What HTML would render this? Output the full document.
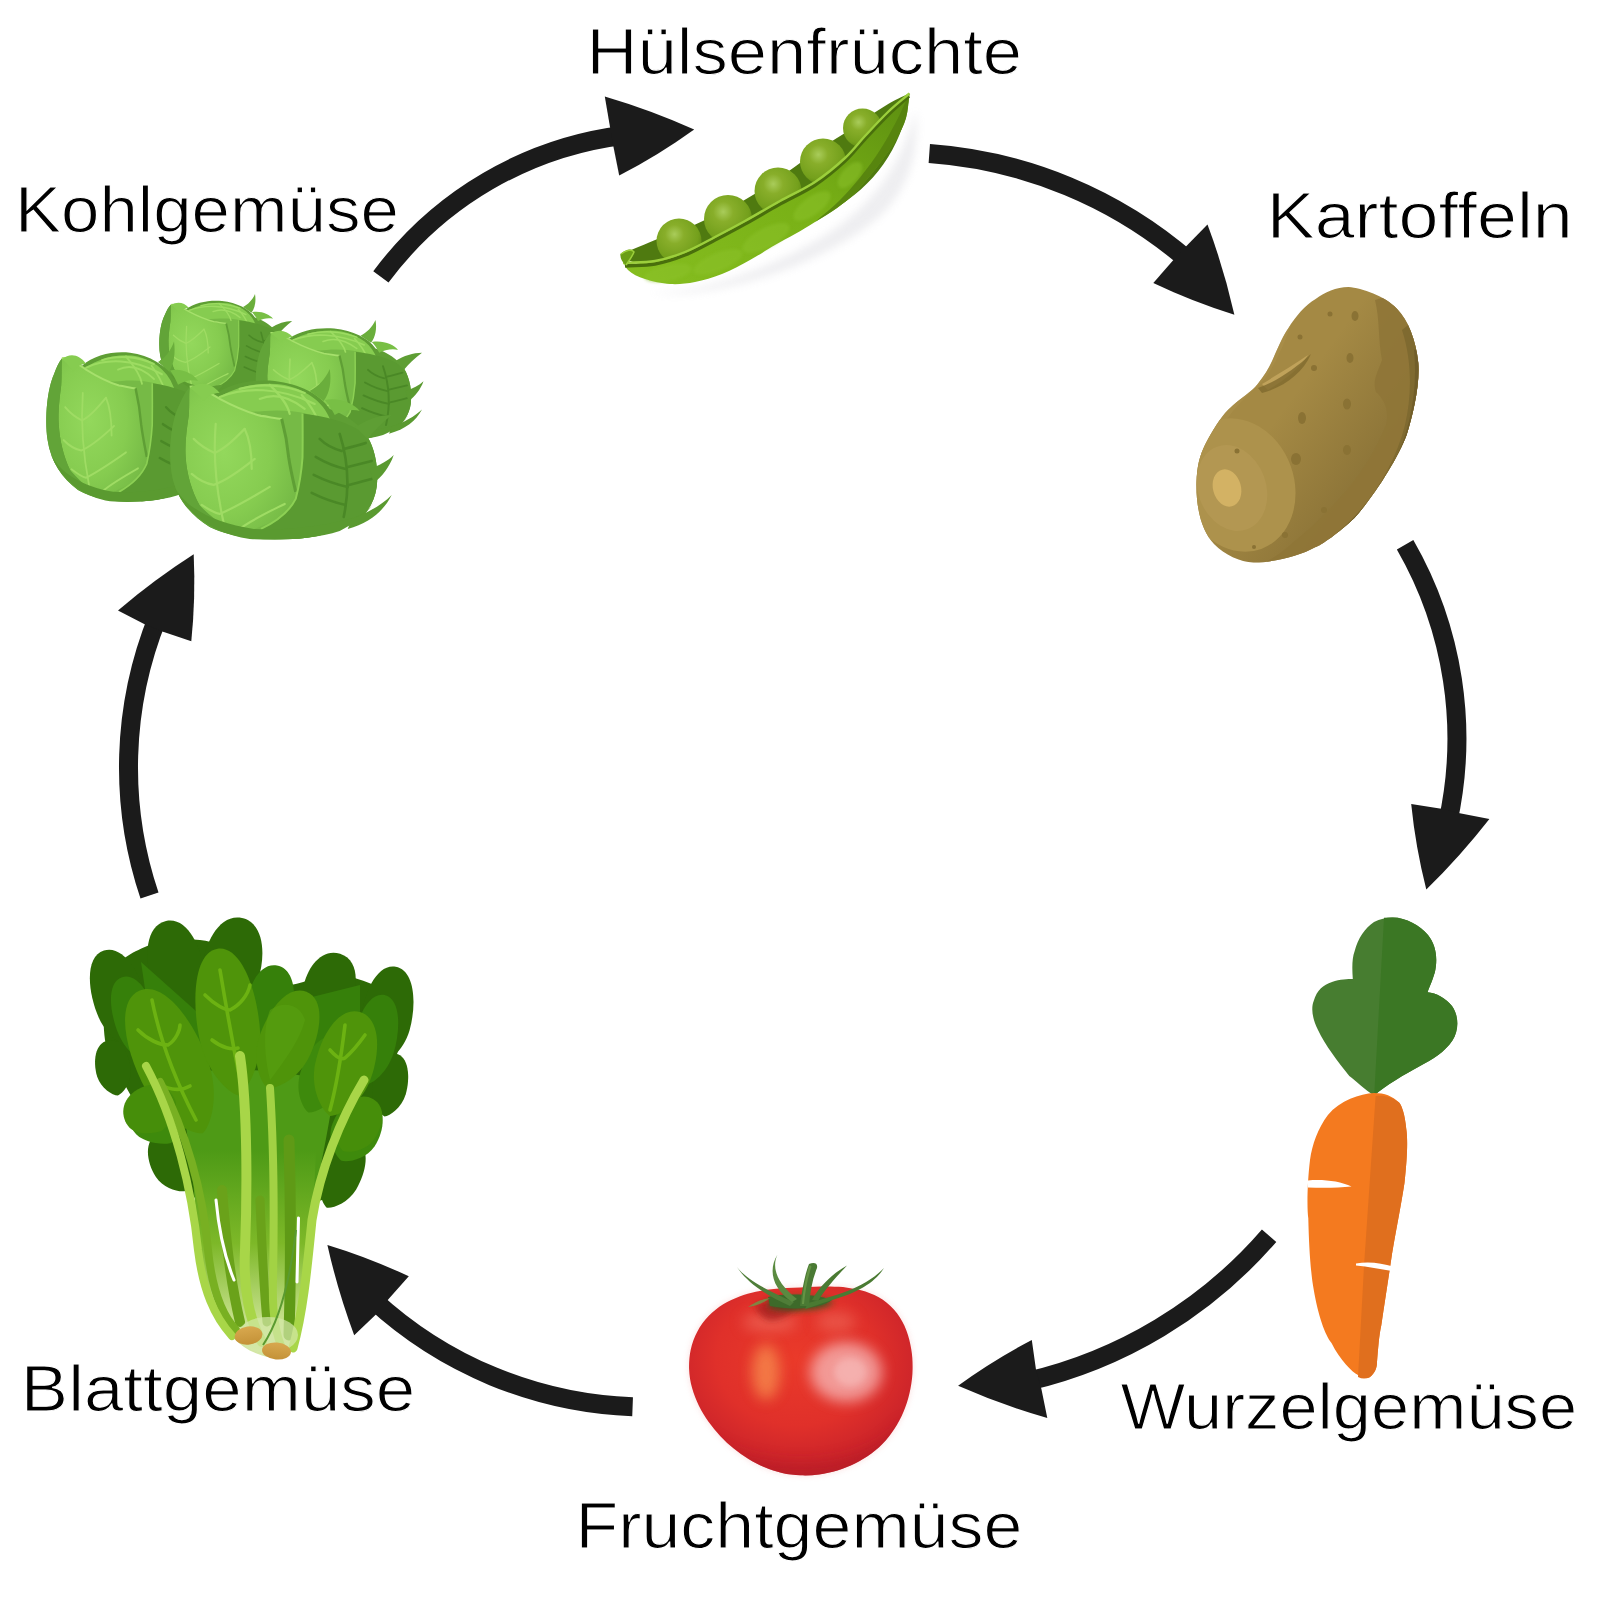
<!DOCTYPE html>
<html><head><meta charset="utf-8">
<style>
html,body{margin:0;padding:0;background:#fff;}
svg{display:block;}
text{font-family:"Liberation Sans",sans-serif;font-size:64px;fill:#000;stroke:#fff;stroke-width:1.1px;}
</style></head><body>
<svg width="1600" height="1600" viewBox="0 0 1600 1600">
<rect width="1600" height="1600" fill="#fff"/>
<!-- VEG -->
<g id="spinach">
<defs>
<path id="leafU" d="M0,-1 C0.75,-1 1.05,-0.35 0.95,0.2 C0.85,0.65 0.3,0.95 0,1 C-0.3,0.95 -0.85,0.65 -0.95,0.2 C-1.05,-0.35 -0.75,-1 0,-1 Z"/>
<linearGradient id="spBase" x1="0" y1="0" x2="0" y2="1">
<stop offset="0" stop-color="#4d9a16"/>
<stop offset="0.45" stop-color="#7db828"/>
<stop offset="0.8" stop-color="#c2de86"/>
<stop offset="1" stop-color="#d6e8aa"/>
</linearGradient>
<linearGradient id="spCut" x1="0" y1="0" x2="0" y2="1">
<stop offset="0" stop-color="#d8a84e"/>
<stop offset="1" stop-color="#c49238"/>
</linearGradient>
</defs>
<!-- dark back leaves -->
<path fill="#2d6a06" d="M110.0,975.0 C117.5,959.2 135.0,950.8 150.0,945.0 C165.0,939.2 185.0,938.3 200.0,940.0 C215.0,941.7 226.7,947.5 240.0,955.0 C253.3,962.5 263.3,981.7 280.0,985.0 C296.7,988.3 320.8,972.5 340.0,975.0 C359.2,977.5 385.3,987.5 395.0,1000.0 C404.7,1012.5 400.5,1035.0 398.0,1050.0 C395.5,1065.0 387.2,1073.3 380.0,1090.0 C372.8,1106.7 364.7,1131.7 355.0,1150.0 C345.3,1168.3 347.0,1191.7 322.0,1200.0 C297.0,1208.3 227.8,1203.3 205.0,1200.0 C182.2,1196.7 193.3,1190.8 185.0,1180.0 C176.7,1169.2 165.0,1150.8 155.0,1135.0 C145.0,1119.2 133.3,1100.8 125.0,1085.0 C116.7,1069.2 107.5,1058.3 105.0,1040.0 C102.5,1021.7 102.5,990.8 110.0,975.0 Z"/>
<g fill="#2d6a06">
<use href="#leafU" transform="translate(120,1000) rotate(-18) scale(27,52)"/>
<use href="#leafU" transform="translate(176,968) rotate(-12) scale(28,48)"/>
<use href="#leafU" transform="translate(232,965) rotate(12) scale(30,48)"/>
<use href="#leafU" transform="translate(329,988) rotate(18) scale(26,36)"/>
<use href="#leafU" transform="translate(387,1016) rotate(10) scale(26,50)"/>
<use href="#leafU" transform="translate(113,1068) rotate(-10) scale(18,28)"/>
<use href="#leafU" transform="translate(172,1162) rotate(-25) scale(22,32)"/>
<use href="#leafU" transform="translate(390,1085) rotate(10) scale(18,32)"/>
<use href="#leafU" transform="translate(342,1175) rotate(25) scale(20,36)"/>
</g>
<g fill="#36800a">
<use href="#leafU" transform="translate(136,1020) rotate(-18) scale(22,45)"/>
<use href="#leafU" transform="translate(375,1040) rotate(12) scale(22,46)"/>
<use href="#leafU" transform="translate(270,1005) rotate(10) scale(24,40)"/>
<path d="M141,962 L206,1020 L200,1098 L160,1090 Z"/>
<path d="M300,1000 L360,985 L360,1090 L310,1110 Z"/>
</g>
<!-- center mass -->
<path fill="#4e9a16" d="M178,1075 C220,1065 300,1070 335,1085 C330,1120 322,1160 316,1190 L195,1200 C190,1150 184,1110 178,1075 Z"/>
<path fill="url(#spBase)" d="M193,1150 C194,1220 200,1275 215,1310 C225,1332 240,1348 258,1354 C272,1360 286,1358 293,1350 C301,1330 306,1300 309,1276 C311,1250 313,1220 316,1150 Z"/>
<g fill="#3e8a0c">
<use href="#leafU" transform="translate(160,1115) rotate(-20) scale(32,30)"/>
<use href="#leafU" transform="translate(356,1130) rotate(25) scale(25,34)"/>
<use href="#leafU" transform="translate(322,1075) rotate(20) scale(22,40)"/>
</g>
<!-- front leaves -->
<g fill="#4f940a">
<use href="#leafU" transform="translate(171,1062) rotate(-24) scale(36,78)"/>
<use href="#leafU" transform="translate(228,1022) rotate(-8) scale(32,74)"/>
<use href="#leafU" transform="translate(287,1040) rotate(22) scale(28,52)"/>
<use href="#leafU" transform="translate(345,1064) rotate(16) scale(30,54)"/>
</g>
<g fill="#468e0a">
<use href="#leafU" transform="translate(150,1110) rotate(-30) scale(28,24)"/>
<use href="#leafU" transform="translate(358,1125) rotate(30) scale(22,30)"/>
</g>
<g fill="none" stroke="#6cb212" stroke-width="3.6" stroke-linecap="round">
<path d="M152,1000 C160,1040 175,1080 196,1120"/>
<path d="M138,1030 C148,1040 160,1045 168,1045 C176,1040 180,1030 180,1025"/>
<path d="M155,1080 C165,1090 180,1092 190,1086"/>
<path d="M220,970 C225,1000 232,1040 240,1080"/>
<path d="M205,995 C215,1005 225,1010 230,1010 C240,1005 248,995 250,985"/>
<path d="M212,1040 C222,1048 232,1050 238,1048"/>
<path d="M345,1025 C342,1050 338,1080 330,1110"/>
<path d="M330,1050 C337,1058 342,1060 345,1058 C352,1052 360,1042 365,1035"/>
</g>
<path fill="#58a010" opacity="0.6" d="M270,1010 C285,1000 300,1005 305,1020 C300,1040 285,1060 270,1080 C265,1060 262,1030 270,1010 Z"/>
<!-- stems -->
<g fill="none" stroke-linecap="round">
<path stroke="#6aa21a" stroke-width="10" d="M222,1190 C226,1240 230,1280 240,1322"/>
<path stroke="#6aa21a" stroke-width="9" d="M260,1200 C262,1250 264,1290 267,1322"/>
<path stroke="#5f9a16" stroke-width="11" d="M289,1140 C291,1210 291,1270 289,1335"/>
<path stroke="#78b022" stroke-width="8" d="M160,1082 C185,1130 203,1190 208,1250 C212,1290 222,1315 236,1330"/>
<path stroke="#a8d648" stroke-width="8" d="M146,1066 C175,1120 192,1190 198,1250 C203,1290 214,1316 232,1336"/>
<path stroke="#a8d648" stroke-width="10" d="M240,1056 C248,1110 247,1200 245,1250 C243,1290 250,1322 262,1342"/>
<path stroke="#a2d244" stroke-width="8" d="M270,1088 C274,1150 274,1230 273,1280 C272,1312 276,1336 283,1350"/>
<path stroke="#a8d648" stroke-width="9" d="M364,1080 C340,1120 320,1170 312,1220 C307,1270 303,1312 293,1348"/>
<path stroke="#ffffff" stroke-width="3" d="M216,1200 C219,1232 225,1258 234,1280"/>
<path stroke="#ffffff" stroke-width="3" d="M298.5,1218 C298,1240 297.5,1262 297,1282"/>
</g>
<ellipse cx="268" cy="1335" rx="30" ry="18" fill="#d4e8aa" opacity="0.7"/>
<!-- cut ends -->
<ellipse cx="248.5" cy="1335.5" rx="14" ry="9" fill="url(#spCut)" transform="rotate(-8 248.5 1335.5)"/>
<ellipse cx="276.5" cy="1351" rx="14.5" ry="8.5" fill="url(#spCut)" transform="rotate(5 276.5 1351)"/>
<path fill="none" stroke="#5a9a30" stroke-width="2" d="M296,1230 C290,1280 280,1320 263,1345"/>
</g>

<g id="cabbage">
<defs>
<radialGradient id="cabBall" cx="0.35" cy="0.45" r="0.7">
<stop offset="0" stop-color="#93d85c"/>
<stop offset="0.6" stop-color="#86cc50"/>
<stop offset="1" stop-color="#76bb46"/>
</radialGradient>
<g id="cabHead">
<path fill="#5e9e34" d="M-70,-72 C-60,-74 -50,-70 -45,-64 C-30,-76 -5,-80 15,-78 C40,-75 60,-65 70,-50 C85,-45 100,-35 108,-22 C116,-8 119,10 117,28 C115,42 108,55 96,62 C80,72 55,80 30,80 C0,82 -30,78 -50,68 C-70,56 -84,38 -88,15 C-92,-10 -88,-40 -80,-55 C-77,-62 -74,-68 -70,-72 Z"/>
<circle cx="0" cy="0" r="72" fill="#76ba46"/>
<path fill="#86cc50" d="M-50,-55 C-30,-72 0,-78 25,-74 C50,-68 66,-55 72,-35 C55,-46 30,-50 5,-48 C-20,-46 -40,-48 -50,-55 Z"/>
<g fill="none" stroke="#9ddc62" stroke-width="2.2" stroke-linecap="round">
<path d="M-40,-62 C-15,-72 20,-72 55,-55"/>
<path d="M-20,-70 C0,-76 25,-74 45,-66"/>
<path d="M0,-60 C15,-66 30,-62 45,-50"/>
<path d="M10,-74 C20,-64 28,-55 30,-45"/>
<path d="M42,-64 C50,-55 56,-45 60,-35"/>
</g>
<path fill="url(#cabBall)" d="M-70,-72 C-62,-74 -50,-66 -40,-60 C-25,-52 -10,-46 1.3,-43 C10,-42 16,-40 22,-40 C26,-25 28,-12 29,-1.4 C31,12 34,24 36,33 C32,48 20,62 1.3,67 C-8,72 -18,74 -26,74 C-40,66 -52,58 -60,46.7 C-68,32 -73,15 -74,-1.4 C-75,-15 -73,-30 -71,-43 C-70,-55 -71,-64 -70,-72 Z"/>
<path fill="none" stroke="#a6e06c" stroke-width="2.2" d="M-70,-72 C-62,-74 -50,-66 -40,-60 C-25,-52 -10,-46 1.3,-43 C10,-42 16,-40 22,-40"/>
<path fill="none" stroke="#5f9f35" stroke-width="3" d="M22,-40 C26,-25 28,-12 29,-1.4 C31,12 34,24 36,33"/>
<g fill="none" stroke="#9fdc64" stroke-width="2.2" stroke-linecap="round">
<path d="M-44,-35 C-46,-10 -46,20 -36,64"/>
<path d="M-66,-20 C-58,-12 -50,-8 -45,-6 C-35,-10 -25,-20 -15,-30"/>
<path d="M-68,15 C-60,22 -52,25 -46,26 C-34,22 -20,12 -5,0"/>
<path d="M-58,46 C-52,50 -46,54 -40,55 C-28,50 -10,40 10,28"/>
<path d="M-20,70 C-10,62 5,55 25,45"/>
<path d="M-15,-30 C-10,-20 -8,-5 -8,10"/>
</g>
<path fill="#62a438" d="M-70,-72 C-74,-68 -77,-62 -80,-55 C-88,-40 -92,-10 -88,15 C-84,38 -70,56 -50,68 C-40,73 -20,78 -6,79 C-26,74 -40,66 -60,46.7 C-68,32 -73,15 -74,-1.4 C-75,-15 -73,-30 -71,-43 C-70,-55 -71,-64 -70,-72 Z"/>
<path fill="#5a9a31" d="M42.8,-45.4 C70,-42 95,-35 108,-22 C116,-8 119,10 117,28 C115,42 108,55 96,62 C80,72 55,80 30,80 C20,79 10,75 1.3,70 C18,62 30,52 36,40 C40,25 42,10 42.8,-1.4 C43,-15 43,-30 42.8,-45.4 Z"/>
<path fill="none" stroke="#8cd054" stroke-width="2" d="M42.8,-45.4 C43,-30 43,-15 42.8,-1.4 C42,10 40,25 36,40 C30,52 18,62 1.3,70"/>
<g fill="none" stroke="#4a8826" stroke-width="2.6" stroke-linecap="round">
<path d="M80,-25 C88,0 90,30 84,58"/>
<path d="M82,-8 C74,-10 66,-14 60,-20"/>
<path d="M86,10 C76,8 66,4 56,-2"/>
<path d="M88,28 C78,26 66,22 54,16"/>
<path d="M86,46 C76,44 64,40 52,34"/>
<path d="M84,-10 C92,-12 100,-14 106,-16"/>
<path d="M88,8 C96,6 104,4 112,2"/>
<path d="M89,26 C97,24 104,22 112,20"/>
</g>
<path fill="#5a9a30" d="M-84,30 C-72,50 -45,64 -6,70 C30,72 70,66 96,58 C105,55 112,48 116,40 C108,55 96,64 80,72 C55,80 20,82 -10,80 C-40,76 -70,60 -84,30 Z"/>
<path fill="#5a9a30" d="M92,60 C108,54 122,46 132,36 C124,52 110,64 88,70 Z"/>
<path fill="#86cc50" d="M-70,-71 C-60,-78 -48,-76 -40,-66 C-46,-66 -52,-64 -56,-58 C-60,-63 -65,-68 -70,-71 Z"/>
<path fill="#6aae3c" d="M50,-68 C58,-72 66,-80 70,-90 C72,-78 70,-66 64,-58 Z"/>
<path fill="#5e9e34" d="M96,-32 C108,-40 120,-44 132,-44 C122,-36 114,-28 108,-20 Z"/>
<path fill="#78bf45" d="M65,-59 C80,-62 95,-55 100,-48 C92,-50 82,-48 75,-44 C72,-50 68,-56 65,-59 Z"/>
<path fill="#5a9a30" d="M110,10 C120,6 128,2 134,-4 C130,8 122,18 114,24 Z"/>
</g>
</defs>
<path fill="#5e9e34" d="M160,360 L280,350 L300,420 L200,430 Z"/>
<use href="#cabHead" transform="translate(213,347) scale(0.6,0.59)"/>
<use href="#cabHead" transform="translate(323,384) scale(0.75,0.71)"/>
<use href="#cabHead" transform="translate(118,426) scale(0.8,0.94)"/>
<use href="#cabHead" transform="translate(259.7,458.9) scale(1,1)"/>
</g>

<g id="pea">
<defs>
<radialGradient id="peaG" cx="0.4" cy="0.35" r="0.7">
<stop offset="0" stop-color="#a9cc5a"/>
<stop offset="0.3" stop-color="#88ae2a"/>
<stop offset="0.75" stop-color="#74a01c"/>
<stop offset="1" stop-color="#5a8410"/>
</radialGradient>
<linearGradient id="podG" x1="0" y1="1" x2="1" y2="0">
<stop offset="0" stop-color="#86be20"/>
<stop offset="0.55" stop-color="#78b016"/>
<stop offset="1" stop-color="#5c8e10"/>
</linearGradient>
<filter id="blur4" x="-20%" y="-20%" width="140%" height="140%"><feGaussianBlur stdDeviation="4"/></filter>
<filter id="blur2" x="-20%" y="-20%" width="140%" height="140%"><feGaussianBlur stdDeviation="1.5"/></filter>
</defs>
<path fill="#cfcfd6" opacity="0.35" filter="url(#blur4)" d="M650,292 C700,294 770,270 830,232 C870,205 900,170 916,110 C920,160 905,200 865,228 C800,275 700,300 650,292 Z"/>
<!-- back wall -->
<path fill="#4f7a10" d="M620.5,254 C632,250 645,244 660,238 C680,232 692,226 705,220 C728,210 745,200 758,192 C772,184 790,170 800,163 C815,152 830,142 845,133 C860,122 875,112 885,106 C895,100 903,96 909.4,93.5 C905,140 880,180 840,205 C790,235 720,258 660,265 C640,266 628,262 620.5,254 Z"/>
<!-- peas -->
<circle cx="679" cy="241" r="22.5" fill="url(#peaG)"/>
<circle cx="728" cy="219" r="24" fill="url(#peaG)"/>
<circle cx="778" cy="191" r="23.5" fill="url(#peaG)"/>
<circle cx="823" cy="161.5" r="23" fill="url(#peaG)"/>
<circle cx="862.5" cy="128" r="19.5" fill="url(#peaG)"/>
<!-- front wall -->
<path fill="url(#podG)" d="M620.5,254.0 C624.0,257.0 625.2,261.8 631.0,263.0 C636.8,264.2 646.0,262.8 655.0,261.0 C664.0,259.2 675.0,256.0 685.0,252.0 C695.0,248.0 705.0,242.2 715.0,237.0 C725.0,231.8 734.2,227.0 745.0,221.0 C755.8,215.0 768.3,207.5 780.0,201.0 C791.7,194.5 804.2,189.2 815.0,182.0 C825.8,174.8 836.7,165.7 845.0,158.0 C853.3,150.3 857.8,143.7 865.0,136.0 C872.2,128.3 880.6,119.1 888.0,112.0 C895.4,104.9 902.3,99.7 909.4,93.5 C908.3,101.7 908.2,110.2 906.0,118.0 C903.8,125.8 899.8,133.2 896.0,140.0 C892.2,146.8 887.5,152.8 883.0,159.0 C878.5,165.2 873.8,171.2 869.0,177.0 C864.2,182.8 859.3,188.8 854.0,194.0 C848.7,199.2 843.5,203.3 837.0,208.0 C830.5,212.7 822.0,217.7 815.0,222.0 C808.0,226.3 801.7,230.2 795.0,234.0 C788.3,237.8 782.5,240.7 775.0,245.0 C767.5,249.3 758.8,255.2 750.0,260.0 C741.2,264.8 731.2,270.3 722.0,274.0 C712.8,277.7 703.7,280.3 695.0,282.0 C686.3,283.7 678.3,284.5 670.0,284.0 C661.7,283.5 652.0,281.3 645.0,279.0 C638.0,276.7 632.1,274.2 628.0,270.0 C623.9,265.8 623.0,259.3 620.5,254.0 Z"/>
<path fill="#55820e" opacity="0.9" d="M909.4,93.5 C908.3,101.7 908.2,110.2 906.0,118.0 C903.8,125.8 899.8,133.2 896.0,140.0 C892.2,146.8 887.5,152.8 883.0,159.0 C878.5,165.2 873.8,171.2 869.0,177.0 C864.2,182.8 859.3,188.8 854.0,194.0 C848.7,199.2 843.5,203.3 837.0,208.0 C830.5,212.7 822.3,217.3 815.0,222.0 C823.3,214.7 832.2,207.8 840.0,200.0 C847.8,192.2 855.3,183.3 862.0,175.0 C868.7,166.7 874.3,158.8 880.0,150.0 C885.7,141.2 891.1,131.4 896.0,122.0 C900.9,112.6 904.9,103.0 909.4,93.5 Z"/>
<g fill="#8cc22a" opacity="0.5" filter="url(#blur2)">
<ellipse cx="668" cy="273" rx="24" ry="8" transform="rotate(-12 668 273)"/>
<ellipse cx="718" cy="262" rx="26" ry="9" transform="rotate(-22 718 262)"/>
<ellipse cx="766" cy="238" rx="26" ry="10" transform="rotate(-28 766 238)"/>
<ellipse cx="812" cy="206" rx="22" ry="9" transform="rotate(-36 812 206)"/>
<ellipse cx="850" cy="175" rx="16" ry="8" transform="rotate(-48 850 175)"/>
</g>
<!-- rim -->
<path fill="none" stroke="#496f0c" stroke-width="3.5" d="M625.0,266.0 C635.0,265.3 645.0,265.8 655.0,264.0 C665.0,262.2 675.0,259.0 685.0,255.0 C695.0,251.0 705.0,245.2 715.0,240.0 C725.0,234.8 734.2,230.0 745.0,224.0 C755.8,218.0 768.3,210.5 780.0,204.0 C791.7,197.5 804.2,192.2 815.0,185.0 C825.8,177.8 836.7,168.7 845.0,161.0 C853.3,153.3 857.8,146.7 865.0,139.0 C872.2,131.3 880.7,122.2 888.0,115.0 C895.3,107.8 902.0,102.3 909.0,96.0"/>
<path fill="none" stroke="#9ccf3c" stroke-width="2.4" d="M623.0,263.0 C633.7,262.3 644.7,262.8 655.0,261.0 C665.3,259.2 675.0,256.0 685.0,252.0 C695.0,248.0 705.0,242.2 715.0,237.0 C725.0,231.8 734.2,227.0 745.0,221.0 C755.8,215.0 768.3,207.5 780.0,201.0 C791.7,194.5 804.2,189.2 815.0,182.0 C825.8,174.8 836.7,165.7 845.0,158.0 C853.3,150.3 857.8,143.7 865.0,136.0 C872.2,128.3 880.6,119.1 888.0,112.0 C895.4,104.9 902.3,99.7 909.4,93.5"/>
<!-- left tip curl -->
<path fill="#6a9e16" d="M620.5,254 C626,249 632,248 634,252 C633,257 629,262 626,265 C622,262 620,258 620.5,254 Z"/>
<path fill="none" stroke="#9ccf3c" stroke-width="1.5" d="M621,254 C626,250 632,249 634,252 C632,257 628,262 626,265"/>
</g>

<!-- POTATO -->
<defs>
<linearGradient id="potG" x1="0" y1="0" x2="1" y2="0.3">
<stop offset="0" stop-color="#ad924c"/>
<stop offset="0.6" stop-color="#9e843f"/>
<stop offset="1" stop-color="#7f6a30"/>
</linearGradient>
<radialGradient id="tomG" cx="0.5" cy="0.4" r="0.6">
<stop offset="0" stop-color="#ea3a32"/>
<stop offset="0.7" stop-color="#de2a2c"/>
<stop offset="1" stop-color="#c21f2a"/>
</radialGradient>
<radialGradient id="tomH1" cx="0.5" cy="0.5" r="0.5">
<stop offset="0" stop-color="#fbd6d6" stop-opacity="0.95"/>
<stop offset="0.5" stop-color="#f5a0a0" stop-opacity="0.6"/>
<stop offset="1" stop-color="#e33" stop-opacity="0"/>
</radialGradient>
<radialGradient id="tomH2" cx="0.5" cy="0.5" r="0.5">
<stop offset="0" stop-color="#f98a50" stop-opacity="0.9"/>
<stop offset="1" stop-color="#e33" stop-opacity="0"/>
</radialGradient>
</defs>
<linearGradient id="potShade" gradientUnits="userSpaceOnUse" x1="1290" y1="400" x2="1400" y2="480"><stop offset="0" stop-color="#6a5626" stop-opacity="0"/><stop offset="1" stop-color="#6a5626" stop-opacity="0.5"/></linearGradient>
<clipPath id="potClip"><path id="potPath" d="M1348.5,287 C1362,288 1385,296 1397,308.7 C1408,320 1416,340 1418.3,363 C1420,385 1413,415 1406.7,434.7 C1398,458 1375,495 1354.4,518 C1340,532 1320,546 1315.6,547 C1300,556 1270,563 1253.6,562.5 C1240,562 1225,555 1214,544 C1203,532 1196,512 1196.5,483 C1197,465 1200,455 1205.2,444.4 C1213,430 1220,418 1228.4,409.5 C1240,398 1252,392 1257.5,384.3 C1265,375 1270,366 1273,359 C1280,343 1284,334 1288.5,328 C1296,316 1305,305 1315.6,299 C1325,292 1336,287 1348.5,287 Z"/></clipPath>
<g id="potato">
<use href="#potPath" fill="#a48944"/>
<g clip-path="url(#potClip)">
<path fill="#ab904b" d="M1180,600 L1180,300 L1300,300 C1290,330 1275,370 1260,384 C1240,400 1215,430 1205,460 Z" opacity="0.6"/>
<path fill="url(#potShade)" d="M1180,270 L1440,270 L1440,580 L1180,580 Z"/>
<path fill="#8f7637" opacity="0.9" d="M1375,300 C1380,320 1378,340 1382,360 C1378,372 1372,380 1376,392 C1383,398 1390,410 1386,425 C1380,440 1370,460 1355,480 C1335,505 1315,525 1290,545 C1280,555 1260,566 1250,570 L1440,570 L1440,280 Z"/>
<path fill="#7f6a30" d="M1402,330 C1412,360 1412,395 1405,425 C1395,465 1370,505 1340,530 C1320,548 1295,560 1270,568 L1440,570 L1440,300 Z"/>
<path fill="#6e5b29" d="M1414,350 C1418,390 1410,430 1395,460 C1380,490 1355,520 1330,540 L1440,540 L1440,340 Z" opacity="0.8"/>
<ellipse cx="1238" cy="485" rx="56" ry="68" fill="#ad924c" transform="rotate(-20 1238 485)"/>
<ellipse cx="1232" cy="488" rx="34" ry="44" fill="#b39752" transform="rotate(-20 1232 488)"/>
</g>
<ellipse cx="1227" cy="488" rx="14" ry="19" fill="#d3b264" transform="rotate(-15 1227 488)"/>
<path fill="#c0a25a" d="M1262,384 C1275,376 1292,366 1308,355 C1300,368 1285,380 1268,390 Z"/>
<path fill="#7f6a2e" d="M1258,388 C1276,382 1296,368 1311,354 C1303,373 1284,387 1262,393 Z" opacity="0.8"/>
<g fill="#8a7234">
<circle cx="1330" cy="314" r="2.5"/><ellipse cx="1355" cy="316" rx="3.5" ry="5"/><circle cx="1300" cy="337" r="2.5"/>
<ellipse cx="1350" cy="358" rx="3.5" ry="5"/><circle cx="1314" cy="368" r="3"/><ellipse cx="1347" cy="404" rx="4" ry="5.5"/>
<ellipse cx="1302" cy="418" rx="4" ry="6"/><ellipse cx="1347" cy="450" rx="4" ry="5"/><ellipse cx="1296" cy="459" rx="5" ry="6"/>
<circle cx="1237" cy="451" r="2.5"/><circle cx="1324" cy="510" r="3"/><circle cx="1285" cy="535" r="3"/>
<circle cx="1254" cy="547" r="2"/>
</g>
</g>
<!-- CARROT -->
<g id="carrot">
<path fill="#477d30" d="M1392,917.4 C1405,917 1420,925 1428,935 C1436,945 1438,958 1434.8,972.6 C1432,982 1429,988 1427.6,992.2 C1436,993 1446,998 1452,1006 C1459,1016 1459,1030 1452.6,1040.3 C1445,1052 1432,1060 1420,1066 C1405,1074 1385,1086 1374.2,1095.5 C1365,1090 1355,1080 1349.3,1075.9 C1338,1062 1325,1045 1318,1030 C1312,1018 1311,1008 1313.7,1001.1 C1317,990 1323,985 1332,982 C1340,979 1348,979 1352.8,979 C1352,968 1352,958 1354.6,951.2 C1358,938 1365,928 1374,922 C1380,919 1386,917.4 1392,917.4 Z"/>
<path fill="#3b7724" d="M1392,917.4 C1405,917 1420,925 1428,935 C1436,945 1438,958 1434.8,972.6 C1432,982 1429,988 1427.6,992.2 C1436,993 1446,998 1452,1006 C1459,1016 1459,1030 1452.6,1040.3 C1445,1052 1432,1060 1420,1066 C1405,1074 1385,1086 1374.2,1095.5 L1384,917.8 Z"/>
<path fill="#f47a1f" d="M1374,1093 C1360,1094 1340,1100 1327.9,1115 C1318,1128 1312,1145 1310,1160 C1307,1185 1307,1210 1308.3,1218.3 C1309,1250 1311,1275 1313.7,1289.5 C1318,1315 1325,1335 1331.5,1343 C1340,1360 1352,1372 1358,1375 C1362,1378 1368,1379 1370,1377 C1375,1373 1377,1368 1377,1362 C1378,1350 1379,1335 1381.3,1325.2 C1385,1300 1389,1275 1392,1254 C1397,1225 1402,1200 1404.5,1182.7 C1407,1160 1408,1140 1406.3,1129.3 C1405,1115 1402,1106 1399.1,1102.6 C1392,1096 1385,1093 1374,1093 Z"/>
<path fill="#e06f1e" d="M1375.6,1096 C1385,1095 1392,1097 1399.1,1102.6 C1402,1106 1405,1115 1406.3,1129.3 C1408,1140 1407,1160 1404.5,1182.7 C1402,1200 1397,1225 1392,1254 C1389,1275 1385,1300 1381.3,1325.2 C1379,1335 1378,1350 1377,1362 C1377,1368 1375,1373 1370,1377 C1366,1379 1362,1379 1358,1377 L1364,1266 Z"/>
<path fill="#fff" d="M1308,1180.5 C1322,1179 1340,1181 1351.5,1186.5 C1338,1188 1322,1188 1308,1187.5 Z"/>
<path fill="#fff" d="M1356,1263.5 C1368,1261 1382,1263 1393,1266.5 L1392,1271 C1380,1269 1368,1266.5 1356,1265.5 Z"/>
</g>
<!-- TOMATO -->
<g id="tomato">
<defs>
<radialGradient id="tomG2" cx="0.48" cy="0.38" r="0.65">
<stop offset="0" stop-color="#ea3a2a"/>
<stop offset="0.55" stop-color="#e0302a"/>
<stop offset="0.85" stop-color="#cc242a"/>
<stop offset="1" stop-color="#b91d28"/>
</radialGradient>
<filter id="tblur" x="-50%" y="-50%" width="200%" height="200%"><feGaussianBlur stdDeviation="7"/></filter>
<filter id="tblur2" x="-50%" y="-50%" width="200%" height="200%"><feGaussianBlur stdDeviation="3"/></filter>
<clipPath id="tomClip"><path d="M689.1,1369.0 C688.9,1362.6 689.4,1355.9 690.7,1349.7 C692.1,1343.4 694.4,1337.1 697.4,1331.5 C700.3,1325.9 704.3,1320.5 708.6,1316.0 C712.9,1311.5 718.1,1307.5 723.2,1304.2 C728.4,1301.0 734.1,1298.5 739.5,1296.4 C744.9,1294.3 750.5,1292.9 755.8,1291.7 C761.1,1290.5 766.3,1289.8 771.4,1289.2 C776.4,1288.6 781.3,1288.3 786.2,1288.0 C791.0,1287.7 795.6,1287.6 800.4,1287.4 C805.2,1287.2 809.9,1287.0 814.9,1286.8 C819.9,1286.7 825.0,1286.5 830.4,1286.6 C835.8,1286.8 841.5,1286.9 847.4,1287.7 C853.2,1288.5 859.6,1289.5 865.5,1291.5 C871.4,1293.5 877.6,1296.2 882.9,1299.8 C888.1,1303.5 893.1,1308.2 897.0,1313.3 C900.9,1318.4 904.0,1324.4 906.4,1330.4 C908.8,1336.5 910.3,1343.0 911.3,1349.5 C912.4,1355.9 912.7,1362.5 912.6,1369.0 C912.5,1375.5 911.8,1382.1 910.5,1388.4 C909.3,1394.8 907.6,1401.1 905.3,1407.2 C903.1,1413.3 900.3,1419.2 897.0,1424.8 C893.8,1430.3 889.9,1435.7 885.7,1440.5 C881.4,1445.3 876.5,1449.8 871.4,1453.6 C866.3,1457.4 860.7,1460.7 855.0,1463.6 C849.4,1466.4 843.4,1468.7 837.4,1470.5 C831.4,1472.3 825.2,1473.7 819.0,1474.5 C812.9,1475.3 806.6,1475.6 800.4,1475.3 C794.3,1475.0 788.1,1474.2 782.1,1472.9 C776.2,1471.5 770.3,1469.6 764.7,1467.3 C759.1,1465.0 753.6,1462.2 748.5,1459.0 C743.3,1455.9 738.4,1452.4 733.7,1448.6 C729.0,1444.8 724.6,1440.6 720.4,1436.2 C716.2,1431.7 712.3,1427.0 708.7,1422.0 C705.2,1416.9 701.8,1411.6 699.0,1405.9 C696.2,1400.3 693.7,1394.3 692.1,1388.1 C690.4,1382.0 689.3,1375.4 689.1,1369.0 Z"/></clipPath>
</defs>
<path fill="#f4a0a0" opacity="0.35" filter="url(#tblur2)" d="M689.1,1369.0 C688.9,1362.6 689.4,1355.9 690.7,1349.7 C692.1,1343.4 694.4,1337.1 697.4,1331.5 C700.3,1325.9 704.3,1320.5 708.6,1316.0 C712.9,1311.5 718.1,1307.5 723.2,1304.2 C728.4,1301.0 734.1,1298.5 739.5,1296.4 C744.9,1294.3 750.5,1292.9 755.8,1291.7 C761.1,1290.5 766.3,1289.8 771.4,1289.2 C776.4,1288.6 781.3,1288.3 786.2,1288.0 C791.0,1287.7 795.6,1287.6 800.4,1287.4 C805.2,1287.2 809.9,1287.0 814.9,1286.8 C819.9,1286.7 825.0,1286.5 830.4,1286.6 C835.8,1286.8 841.5,1286.9 847.4,1287.7 C853.2,1288.5 859.6,1289.5 865.5,1291.5 C871.4,1293.5 877.6,1296.2 882.9,1299.8 C888.1,1303.5 893.1,1308.2 897.0,1313.3 C900.9,1318.4 904.0,1324.4 906.4,1330.4 C908.8,1336.5 910.3,1343.0 911.3,1349.5 C912.4,1355.9 912.7,1362.5 912.6,1369.0 C912.5,1375.5 911.8,1382.1 910.5,1388.4 C909.3,1394.8 907.6,1401.1 905.3,1407.2 C903.1,1413.3 900.3,1419.2 897.0,1424.8 C893.8,1430.3 889.9,1435.7 885.7,1440.5 C881.4,1445.3 876.5,1449.8 871.4,1453.6 C866.3,1457.4 860.7,1460.7 855.0,1463.6 C849.4,1466.4 843.4,1468.7 837.4,1470.5 C831.4,1472.3 825.2,1473.7 819.0,1474.5 C812.9,1475.3 806.6,1475.6 800.4,1475.3 C794.3,1475.0 788.1,1474.2 782.1,1472.9 C776.2,1471.5 770.3,1469.6 764.7,1467.3 C759.1,1465.0 753.6,1462.2 748.5,1459.0 C743.3,1455.9 738.4,1452.4 733.7,1448.6 C729.0,1444.8 724.6,1440.6 720.4,1436.2 C716.2,1431.7 712.3,1427.0 708.7,1422.0 C705.2,1416.9 701.8,1411.6 699.0,1405.9 C696.2,1400.3 693.7,1394.3 692.1,1388.1 C690.4,1382.0 689.3,1375.4 689.1,1369.0 Z"/>
<path fill="url(#tomG2)" d="M689.1,1369.0 C688.9,1362.6 689.4,1355.9 690.7,1349.7 C692.1,1343.4 694.4,1337.1 697.4,1331.5 C700.3,1325.9 704.3,1320.5 708.6,1316.0 C712.9,1311.5 718.1,1307.5 723.2,1304.2 C728.4,1301.0 734.1,1298.5 739.5,1296.4 C744.9,1294.3 750.5,1292.9 755.8,1291.7 C761.1,1290.5 766.3,1289.8 771.4,1289.2 C776.4,1288.6 781.3,1288.3 786.2,1288.0 C791.0,1287.7 795.6,1287.6 800.4,1287.4 C805.2,1287.2 809.9,1287.0 814.9,1286.8 C819.9,1286.7 825.0,1286.5 830.4,1286.6 C835.8,1286.8 841.5,1286.9 847.4,1287.7 C853.2,1288.5 859.6,1289.5 865.5,1291.5 C871.4,1293.5 877.6,1296.2 882.9,1299.8 C888.1,1303.5 893.1,1308.2 897.0,1313.3 C900.9,1318.4 904.0,1324.4 906.4,1330.4 C908.8,1336.5 910.3,1343.0 911.3,1349.5 C912.4,1355.9 912.7,1362.5 912.6,1369.0 C912.5,1375.5 911.8,1382.1 910.5,1388.4 C909.3,1394.8 907.6,1401.1 905.3,1407.2 C903.1,1413.3 900.3,1419.2 897.0,1424.8 C893.8,1430.3 889.9,1435.7 885.7,1440.5 C881.4,1445.3 876.5,1449.8 871.4,1453.6 C866.3,1457.4 860.7,1460.7 855.0,1463.6 C849.4,1466.4 843.4,1468.7 837.4,1470.5 C831.4,1472.3 825.2,1473.7 819.0,1474.5 C812.9,1475.3 806.6,1475.6 800.4,1475.3 C794.3,1475.0 788.1,1474.2 782.1,1472.9 C776.2,1471.5 770.3,1469.6 764.7,1467.3 C759.1,1465.0 753.6,1462.2 748.5,1459.0 C743.3,1455.9 738.4,1452.4 733.7,1448.6 C729.0,1444.8 724.6,1440.6 720.4,1436.2 C716.2,1431.7 712.3,1427.0 708.7,1422.0 C705.2,1416.9 701.8,1411.6 699.0,1405.9 C696.2,1400.3 693.7,1394.3 692.1,1388.1 C690.4,1382.0 689.3,1375.4 689.1,1369.0 Z"/>
<g clip-path="url(#tomClip)">
<path fill="#b81c26" opacity="0.55" filter="url(#tblur)" d="M700,1430 C740,1470 860,1480 905,1420 L920,1500 L680,1500 Z"/>
<ellipse cx="846" cy="1372" rx="36" ry="30" fill="#f8c4c4" opacity="0.7" filter="url(#tblur)"/>
<ellipse cx="850" cy="1372" rx="16" ry="14" fill="#fcdcdc" opacity="0.35" filter="url(#tblur2)"/>
<ellipse cx="766" cy="1372" rx="14" ry="28" fill="#f48048" opacity="0.9" filter="url(#tblur)"/>
<ellipse cx="770" cy="1322" rx="28" ry="10" fill="#f07060" opacity="0.6" filter="url(#tblur)"/>
<ellipse cx="836" cy="1322" rx="20" ry="10" fill="#f07060" opacity="0.55" filter="url(#tblur)"/>
<path fill="#9e1c1c" opacity="0.7" filter="url(#tblur2)" d="M755,1305 C765,1300 790,1300 800,1306 C790,1315 778,1322 768,1320 C760,1316 756,1310 755,1305 Z"/>
</g>
<path fill="#2f5a20" opacity="0.9" filter="url(#tblur2)" d="M768,1300 C785,1295 815,1295 834,1302 C825,1310 795,1313 770,1308 Z"/>
<path fill="#3d6a2a" d="M768,1297 C785,1293 815,1294 832,1300 C822,1308 795,1311 770,1306 Z"/>
<path fill="#4f7d38" d="M737,1267 C745,1278 765,1290 794,1302 L790,1306 C768,1296 748,1284 737,1267 Z"/>
<path fill="#5a8a40" d="M777.5,1254.5 C772,1266 775,1282 797,1299 L792,1302 C772,1288 768,1270 777.5,1254.5 Z"/>
<path fill="#4a7a32" d="M847,1265.5 C835,1272 820,1285 812,1300 L818,1301 C826,1288 838,1275 847,1265.5 Z"/>
<path fill="#4a7a32" d="M884,1268 C875,1282 860,1292 832,1300 C820,1304 812,1307 805,1309 L808,1303 C835,1296 865,1288 884,1268 Z"/>
<path fill="#4a7a34" d="M809,1264 C814,1262 818,1263 817,1268 C812,1280 810,1293 809,1306 L800,1306 C802,1290 805,1274 809,1264 Z"/>
<path fill="#6a9a48" opacity="0.8" d="M809,1266 C811,1265 812,1266 811,1268 C807,1280 805,1293 804,1304 L802,1304 C803,1290 806,1276 809,1266 Z"/>
<path fill="#6c9a48" opacity="0.8" d="M748,1307 C755,1302 762,1299 770,1298 C764,1303 756,1306 748,1307 Z"/>
</g>

<!-- arrows -->
<g fill="none" stroke="#1b1b1b" stroke-width="19" stroke-linecap="butt">
<path d="M380.9,276.9 A357.3,357.3 0 0 1 623.9,135.2"/>
<path d="M929.3,153.4 A444.8,444.8 0 0 1 1188.9,261.0"/>
<path d="M1405.1,544.7 A388.7,388.7 0 0 1 1447.7,822.7"/>
<path d="M1269.1,1235.7 A456.1,456.1 0 0 1 1026.9,1381.6"/>
<path d="M632.6,1406.8 A405.0,405.0 0 0 1 372.7,1299.4"/>
<path d="M149.5,895.5 A401.0,401.0 0 0 1 157.9,616.7"/>
</g>
<g fill="#1b1b1b">
<path d="M694.2,129.5 Q658.4,155.3 619.2,175.6 L613.4,146.4 L610.0,127.1 L604.8,96.5 Q650.6,110.0 694.2,129.5 Z"/>
<path d="M1234.4,314.7 Q1192.7,301.8 1153.3,283.0 L1172.5,261.1 L1186.7,245.8 L1207.5,224.6 Q1224.0,268.7 1234.4,314.7 Z"/>
<path d="M1426.3,889.6 Q1460.2,856.4 1489.4,819.0 L1459.8,813.3 L1441.3,808.7 L1411.2,804.0 Q1415.6,847.4 1426.3,889.6 Z"/>
<path d="M958.1,1385.7 Q1001.6,1404.9 1047.3,1418.0 L1041.4,1389.0 L1036.0,1369.8 L1031.8,1340.0 Q993.3,1360.1 958.1,1385.7 Z"/>
<path d="M327.4,1244.9 Q369.3,1257.6 408.8,1276.3 L388.6,1299.0 L375.9,1314.6 L354.2,1335.2 Q337.7,1291.0 327.4,1244.9 Z"/>
<path d="M193.7,554.3 Q195.7,597.9 191.3,641.3 L162.4,631.4 L145.1,624.4 L118.0,610.5 Q153.9,579.8 193.7,554.3 Z"/>
</g>
<!-- labels -->
<text transform="translate(586.5,74.4) scale(1.1036,1)">Hülsenfrüchte</text>
<text transform="translate(15,232) scale(1.079,1)">Kohlgemüse</text>
<text transform="translate(1266.8,238) scale(1.122,1)">Kartoffeln</text>
<text transform="translate(1120.5,1428.5) scale(1.073,1)">Wurzelgemüse</text>
<text transform="translate(575.5,1547.5) scale(1.0925,1)">Fruchtgemüse</text>
<text transform="translate(20.8,1411) scale(1.109,1)">Blattgemüse</text>
</svg>
</body></html>
